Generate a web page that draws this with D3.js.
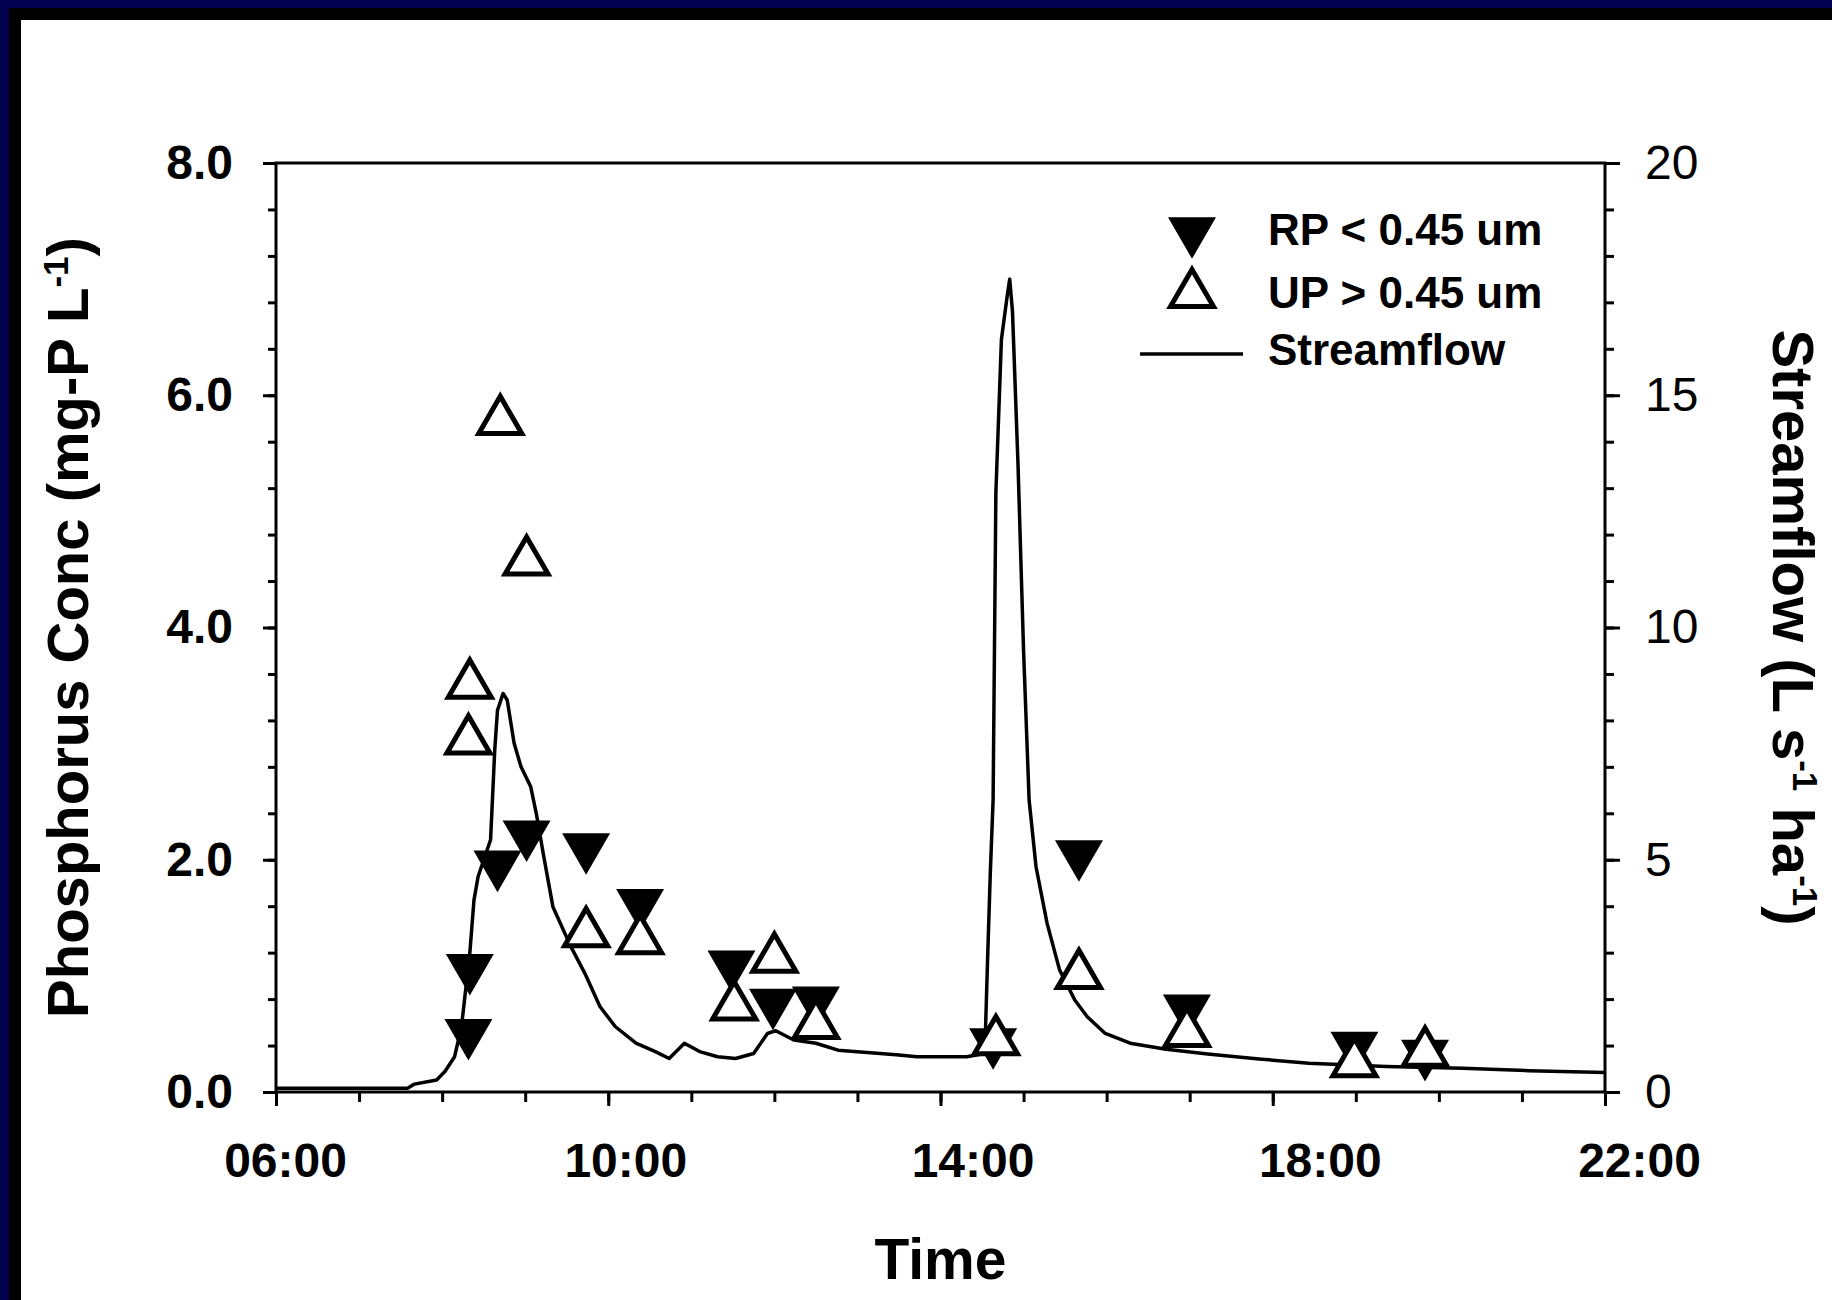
<!DOCTYPE html>
<html>
<head>
<meta charset="utf-8">
<script src="https://cdnjs.cloudflare.com/ajax/libs/d3/7.8.5/d3.min.js"></script>
<style>
  body { margin: 0; background: #fff; }
  svg { display: block; font-family: "Liberation Sans", Arial, sans-serif; }
</style>
</head>
<body>
<svg id="chart" width="1832" height="1300"></svg>
<script>
// axis ticks
const timeTicks = ["06:00", "10:00", "14:00", "18:00", "22:00"];
const concTicks = [0, 2, 4, 6, 8];
const flowTicks = [0, 5, 10, 15, 20];

// RP < 0.45 um (filled, pointing down)
const rpTimes = ["08:19", "08:20", "08:40", "09:01", "09:44", "10:23", "11:29", "11:59", "12:30", "14:38", "15:40", "16:58", "18:59", "19:50"];
const rpValues = [0.45, 1.01, 1.90, 2.16, 2.05, 1.57, 1.04, 0.71, 0.73, 0.37, 1.99, 0.66, 0.34, 0.27];

// UP > 0.45 um (open, pointing up)
const upTimes = ["08:20", "08:19", "08:42", "09:01", "09:44", "10:23", "11:31", "12:00", "12:30", "14:40", "15:40", "16:58", "18:59", "19:50"];
const upValues = [3.56, 3.08, 5.83, 4.62, 1.42, 1.36, 0.79, 1.20, 0.63, 0.49, 1.06, 0.56, 0.30, 0.39];

// streamflow, L s-1 ha-1 (right axis)
const flowTimes = ["06:00", "07:35", "07:40", "07:56", "08:02", "08:09", "08:14", "08:20", "08:23", "08:26",
  "08:35", "08:38", "08:40", "08:44", "08:47", "08:52", "08:57", "09:04", "09:08", "09:13",
  "09:20", "09:33", "09:43", "09:54", "10:05", "10:20", "10:34", "10:44", "10:55", "11:06",
  "11:19", "11:32", "11:45", "11:55", "12:01", "12:14", "12:30", "12:46", "13:28", "13:43",
  "14:19", "14:32", "14:34", "14:36", "14:38", "14:40", "14:44", "14:48", "14:50", "14:52",
  "14:56", "15:00", "15:04", "15:09", "15:17", "15:26", "15:37", "15:46", "15:59", "16:17",
  "16:43", "17:13", "17:50", "18:26", "19:22", "20:17", "21:05", "22:00"];
const flowValues = [0.08, 0.08, 0.17, 0.26, 0.44, 0.76, 1.41, 2.99, 4.13, 4.64,
  5.43, 7.36, 8.22, 8.58, 8.44, 7.51, 7.00, 6.57, 6.00, 5.14,
  3.99, 3.13, 2.56, 1.84, 1.41, 1.05, 0.87, 0.72, 1.05, 0.87,
  0.76, 0.72, 0.83, 1.26, 1.32, 1.12, 1.05, 0.90, 0.80, 0.76,
  0.76, 0.83, 2.84, 4.74, 6.29, 12.9, 16.2, 17.1, 17.5, 16.8,
  13.5, 9.5, 6.29, 4.85, 3.63, 2.63, 1.98, 1.62, 1.26, 1.05,
  0.92, 0.82, 0.71, 0.62, 0.55, 0.51, 0.46, 0.42];

const parse = d3.timeParse("%H:%M");
const svg = d3.select("#chart");

const plotLeft = 276, plotRight = 1605, plotTop = 163, plotBottom = 1092;
// the time labels in the original sit a little right of their ticks
const timeLabelShift = [9, 17, 32, 47, 34];

// frame at top and left
svg.append("rect").attr("x", 0).attr("y", 0).attr("width", 1832).attr("height", 1300).attr("fill", "#fff");
svg.append("rect").attr("x", 9).attr("y", 8).attr("width", 1823).attr("height", 12).attr("fill", "#000");
svg.append("rect").attr("x", 9).attr("y", 8).attr("width", 12).attr("height", 1292).attr("fill", "#000");
svg.append("rect").attr("x", 0).attr("y", 0).attr("width", 1832).attr("height", 8).attr("fill", "#010150");
svg.append("rect").attr("x", 0).attr("y", 0).attr("width", 9).attr("height", 1300).attr("fill", "#010150");

const x = d3.scaleTime().domain([parse("06:00"), parse("22:00")]).range([plotLeft, plotRight]);
const yL = d3.scaleLinear().domain([0, 8]).range([plotBottom, plotTop]);
const yR = d3.scaleLinear().domain([0, 20]).range([plotBottom, plotTop]);

// minor ticks
svg.append("g")
  .attr("transform", "translate(0," + plotBottom + ")")
  .call(d3.axisBottom(x).ticks(d3.timeHour.every(1)).tickSize(10).tickFormat(""));
svg.append("g")
  .attr("transform", "translate(" + plotLeft + ",0)")
  .call(d3.axisLeft(yL).tickValues(d3.range(0, 8.01, 0.4)).tickSize(8).tickFormat(""));
svg.append("g")
  .attr("transform", "translate(" + plotRight + ",0)")
  .call(d3.axisRight(yR).tickValues(d3.range(0, 20.01, 1)).tickSize(9).tickFormat(""));

// major ticks
const xAxis = svg.append("g")
  .attr("transform", "translate(0," + plotBottom + ")")
  .call(d3.axisBottom(x).tickValues(timeTicks.map(parse)).tickSize(14).tickPadding(37)
    .tickFormat(d3.timeFormat("%H:%M")));
xAxis.selectAll("text")
  .attr("font-size", 48).attr("font-weight", "bold")
  .attr("dx", (d, i) => timeLabelShift[i]);

const lAxis = svg.append("g")
  .attr("transform", "translate(" + plotLeft + ",0)")
  .call(d3.axisLeft(yL).tickValues(concTicks).tickSize(13).tickPadding(30).tickFormat(d3.format(".1f")));
lAxis.selectAll("text").attr("font-size", 48).attr("font-weight", "bold");

const rAxis = svg.append("g")
  .attr("transform", "translate(" + plotRight + ",0)")
  .call(d3.axisRight(yR).tickValues(flowTicks).tickSize(15).tickPadding(25));
rAxis.selectAll("text").attr("font-size", 48);

svg.selectAll(".domain").remove();
svg.selectAll(".tick line").attr("stroke", "#000").attr("stroke-width", 3);
svg.selectAll(".tick text").attr("fill", "#000").attr("font-family", '"Liberation Sans", Arial, sans-serif');

// plot border
svg.append("rect")
  .attr("x", plotLeft).attr("y", plotTop)
  .attr("width", plotRight - plotLeft).attr("height", plotBottom - plotTop)
  .attr("fill", "none").attr("stroke", "#000").attr("stroke-width", 3);

// streamflow line
const flow = flowTimes.map((t, i) => ({ t: parse(t), v: flowValues[i] }));
svg.append("path")
  .datum(flow)
  .attr("fill", "none")
  .attr("stroke", "#000")
  .attr("stroke-width", 3.5)
  .attr("stroke-linejoin", "round")
  .attr("d", d3.line().x(d => x(d.t)).y(d => yR(d.v)));

// triangle shapes centred on their bounding box
const downTri = (s) => { const h = s * Math.sqrt(3) / 2; return `M${-s / 2},${-h / 2}L${s / 2},${-h / 2}L0,${h / 2}Z`; };
const upTri = (s) => { const h = s * Math.sqrt(3) / 2; return `M0,${-h / 2}L${s / 2},${h / 2}L${-s / 2},${h / 2}Z`; };

const rp = rpTimes.map((t, i) => ({ t: parse(t), v: rpValues[i] }));
const up = upTimes.map((t, i) => ({ t: parse(t), v: upValues[i] }));

svg.append("g").selectAll("path")
  .data(rp)
  .join("path")
  .attr("d", downTri(48))
  .attr("transform", d => "translate(" + x(d.t) + "," + yL(d.v) + ")")
  .attr("fill", "#000");

svg.append("g").selectAll("path")
  .data(up)
  .join("path")
  .attr("d", upTri(43))
  .attr("transform", d => "translate(" + x(d.t) + "," + yL(d.v) + ")")
  .attr("fill", "#fff")
  .attr("stroke", "#000")
  .attr("stroke-width", 5);

// legend
const lg = svg.append("g").attr("font-size", 44).attr("font-weight", "bold");
lg.append("path").attr("d", downTri(48)).attr("transform", "translate(1192,238)").attr("fill", "#000");
lg.append("path").attr("d", upTri(43)).attr("transform", "translate(1192,288)")
  .attr("fill", "#fff").attr("stroke", "#000").attr("stroke-width", 5);
lg.append("line").attr("x1", 1140).attr("x2", 1243).attr("y1", 354).attr("y2", 354)
  .attr("stroke", "#000").attr("stroke-width", 3.5);
lg.append("text").attr("x", 1268).attr("y", 245).text("RP < 0.45 um");
lg.append("text").attr("x", 1268).attr("y", 308).text("UP > 0.45 um");
lg.append("text").attr("x", 1268).attr("y", 365).text("Streamflow");

// axis titles
svg.append("text")
  .attr("x", (plotLeft + plotRight) / 2).attr("y", 1279)
  .attr("text-anchor", "middle").attr("font-size", 57).attr("font-weight", "bold")
  .text("Time");

const yTitle = svg.append("text")
  .attr("transform", "translate(88," + (plotTop + plotBottom) / 2 + ") rotate(-90)")
  .attr("text-anchor", "middle").attr("font-size", 58).attr("font-weight", "bold");
yTitle.append("tspan").text("Phosphorus Conc (mg-P L");
yTitle.append("tspan").attr("font-size", 35).attr("dy", -20).text("-1");
yTitle.append("tspan").attr("dy", 20).text(")");

const y2Title = svg.append("text")
  .attr("transform", "translate(1773," + (plotTop + plotBottom) / 2 + ") rotate(90)")
  .attr("text-anchor", "middle").attr("font-size", 58).attr("font-weight", "bold");
y2Title.append("tspan").text("Streamflow (L s");
y2Title.append("tspan").attr("font-size", 35).attr("dy", -20).text("-1");
y2Title.append("tspan").attr("dy", 20).text(" ha");
y2Title.append("tspan").attr("font-size", 35).attr("dy", -20).text("-1");
y2Title.append("tspan").attr("dy", 20).text(")");
</script>
</body>
</html>
